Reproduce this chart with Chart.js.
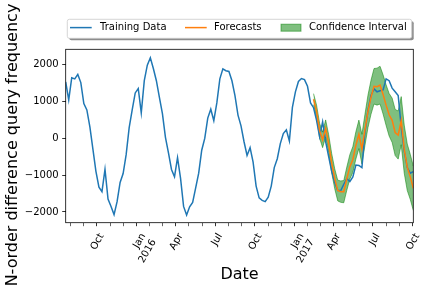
<!DOCTYPE html>
<html>
<head>
<meta charset="utf-8">
<script src="https://cdn.jsdelivr.net/npm/chart.js@4.4.0/dist/chart.umd.min.js"></script>
<style>
  html, body { margin: 0; padding: 0; background: #fff; }
</style>
</head>
<body>
<canvas id="chart" width="432" height="288"></canvas>
<script>

// weekly series, first week and values
const firstWeek = '2015-07-21';

const training = [
  1520, 1030, 1630, 1600, 1720, 1500, 930, 760, 300, -300,
  -900, -1330, -1450, -850, -1650, -1850, -2070, -1720, -1200, -960,
  -450, 280, 760, 1220, 1340, 680, 1550, 1970, 2170, 1880,
  1550, 1100, 660, 20, -400, -850, -1045, -530, -1090, -1850,
  -2080, -1860, -1740, -1350, -950, -330, -10, 540, 780, 470,
  950, 1600, 1870, 1820, 1800, 1550, 1150, 620, 330, -100,
  -470, -260, -650, -1300, -1620, -1685, -1720, -1600, -1300, -800,
  -560, -150, 120, 220, -80, 830, 1250, 1530, 1610, 1580,
  1400, 950, 820, 480, 40, 440, -100, -500, -900, -1200,
  -1420, -1420, -1250, -1100, -1180, -1050, -730, -740, -800, 150,
  750, 1150, 1330, 1250, 1280, 1300, 1600, 1550, 1350, 1250,
  1150, 300, -350, -800, -950, -910
];

// forecasts start at week index 82
const forecastStart = 82;
const forecasts = [
  1050, 720, 200, -50, 260, -150, -680, -1100, -1420, -1450,
  -1450, -1100, -780, -580, -200, 100, -300, 220, 720, 1100,
  1400, 1390, 1430, 1180, 890, 630, 480, 150, 80, 470,
  -300, -790, -1050, -1360
];
const ciUpper = [
  1200, 890, 400, 160, 490, 90, -420, -830, -1140, -1160,
  -1150, -785, -450, -230, 170, 485, 100, 640, 1160, 1560,
  1880, 1890, 1940, 1710, 1440, 1205, 1080, 775, 730, 1120,
  350, -160, -440, -760
];
const ciLower = [
  900, 550, 0, -260, 30, -390, -940, -1370, -1700, -1740,
  -1750, -1415, -1110, -930, -570, -285, -700, -200, 280, 640,
  920, 890, 920, 650, 340, 55, -120, -475, -570, -180,
  -950, -1420, -1660, -1960
];

const seriesNames = ['Training Data', 'Forecasts', 'Confidence Interval'];
const yTicks = [-2000, -1000, 0, 1000, 2000];
const xTickDates = ['2015-10-01', '2016-01-01', '2016-04-01', '2016-07-01', '2016-10-01',
                    '2017-01-01', '2017-04-01', '2017-07-01', '2017-10-01'];
const xTickLabels = ['Oct', ['Jan', '2016'], 'Apr', 'Jul', 'Oct', ['Jan', '2017'], 'Apr', 'Jul', 'Oct'];
const xTitle = 'Date';
const yTitle = 'N-order difference query frequency';

const DAY = 86400000;
const toDay = s => Date.parse(s) / DAY;
const weeks = training.map((v, i) => toDay(firstWeek) + 7 * i);
const xmin = weeks[0], xmax = weeks[weeks.length - 1];

const labelMap = new Map(xTickDates.map((d, i) => [toDay(d), xTickLabels[i]]));
// monthly minor ticks
const monthTicks = [];
for (let y = 2015; y <= 2017; y++) {
  for (let m = 0; m < 12; m++) {
    const d = Date.UTC(y, m, 1) / DAY;
    if (d >= xmin && d <= xmax) monthTicks.push(d);
  }
}

const pts = (arr, off) => arr.map((v, i) => ({ x: weeks[i + off], y: v }));

const green = 'rgba(0,128,0,0.5)';

Chart.defaults.font.family = '"DejaVu Sans", sans-serif';
Chart.defaults.font.size = 10;
Chart.defaults.color = '#000';

const extras = {
  id: 'extras',
  beforeDraw(chart) {
    // two-line tick labels sit a little further right in the original
    try {
      chart.scales.x.getLabelItems().forEach(it => {
        if (Array.isArray(it.label) && it.label.length > 1 && !it.moved) {
          it.options.translation[0] += 2;
          it.moved = true;
        }
      });
    } catch (e) {}
  },
  afterDraw(chart) {
    const { ctx, chartArea: a } = chart;
    ctx.save();
    ctx.strokeStyle = '#000';
    ctx.lineWidth = 0.8;
    ctx.strokeRect(a.left, a.top, a.right - a.left, a.bottom - a.top);

    // y title
    ctx.save();
    ctx.fillStyle = '#000';
    ctx.font = '16px "DejaVu Sans"';
    ctx.translate(16.5, 145);
    ctx.rotate(-Math.PI / 2);
    ctx.textAlign = 'center';
    ctx.textBaseline = 'alphabetic';
    ctx.fillText(yTitle, 0, 0);
    ctx.restore();

    // legend box with shadow
    const lx = 67.3, ly = 19.3, lw = 344.4, lh = 19, cy = 27.6;
    ctx.fillStyle = 'rgba(0,0,0,0.45)';
    ctx.beginPath();
    ctx.roundRect(lx + 2, ly + 2, lw, lh, 2);
    ctx.fill();
    ctx.fillStyle = '#fff';
    ctx.strokeStyle = '#cccccc';
    ctx.lineWidth = 0.8;
    ctx.beginPath();
    ctx.roundRect(lx, ly, lw, lh, 2);
    ctx.fill();
    ctx.stroke();

    ctx.lineWidth = 1.5;
    ctx.strokeStyle = '#1f77b4';
    ctx.beginPath(); ctx.moveTo(70, cy); ctx.lineTo(91.7, cy); ctx.stroke();
    ctx.strokeStyle = '#ff7f0e';
    ctx.beginPath(); ctx.moveTo(185, cy); ctx.lineTo(206.7, cy); ctx.stroke();
    ctx.fillStyle = green;
    ctx.strokeStyle = green;
    ctx.lineWidth = 1;
    ctx.fillRect(281, 24.2, 20, 7);
    ctx.strokeRect(281, 24.2, 20, 7);

    ctx.fillStyle = '#000';
    ctx.font = '10px "DejaVu Sans"';
    ctx.textBaseline = 'middle';
    ctx.textAlign = 'left';
    ctx.fillText(seriesNames[0], 100, cy);
    ctx.fillText(seriesNames[1], 214, cy);
    ctx.fillText(seriesNames[2], 309, cy);
    ctx.restore();
  }
};

new Chart(document.getElementById('chart'), {
  type: 'line',
  data: {
    datasets: [
      {
        label: seriesNames[1],
        data: pts(forecasts, forecastStart),
        borderColor: '#ff7f0e',
        borderWidth: 1.5,
        pointRadius: 0,
        fill: false
      },
      {
        label: seriesNames[0],
        data: pts(training, 0),
        borderColor: '#1f77b4',
        borderWidth: 1.5,
        pointRadius: 0,
        fill: false
      },
      {
        label: seriesNames[2],
        data: pts(ciUpper, forecastStart),
        borderColor: green,
        backgroundColor: green,
        borderWidth: 1,
        pointRadius: 0,
        fill: '+1'
      },
      {
        label: seriesNames[2] + ' (lower)',
        data: pts(ciLower, forecastStart),
        borderColor: green,
        borderWidth: 1,
        pointRadius: 0,
        fill: false
      }
    ]
  },
  options: {
    responsive: false,
    animation: false,
    events: [],
    devicePixelRatio: 1,
    layout: { padding: { top: 49.3, right: 18.7, left: 0, bottom: 0 } },
    plugins: {
      legend: { display: false },
      tooltip: { enabled: false }
    },
    scales: {
      x: {
        type: 'linear',
        min: xmin,
        max: xmax,
        afterBuildTicks: s => {
          s.ticks = monthTicks.map(v => ({ value: v, major: labelMap.has(v) }));
        },
        afterFit: s => { s.height = 65.3; },
        grid: {
          drawOnChartArea: false,
          tickLength: 3.5,
          tickColor: '#000',
          tickWidth: c => (c.tick && c.tick.major ? 0.8 : 0.6)
        },
        border: { display: false },
        ticks: {
          autoSkip: false,
          minRotation: 60,
          maxRotation: 60,
          padding: 5,
          labelOffset: 5,
          callback: v => labelMap.get(v) ?? ''
        },
        title: {
          display: true,
          text: xTitle,
          font: { size: 16 },
          padding: { top: 0, bottom: 4 }
        }
      },
      y: {
        min: -2290,
        max: 2400,
        afterBuildTicks: s => {
          s.ticks = yTicks.map(v => ({ value: v }));
        },
        afterFit: s => { s.width = 65.7; },
        grid: {
          drawOnChartArea: false,
          tickLength: 3.5,
          tickColor: '#000',
          tickWidth: 0.8
        },
        border: { display: false },
        ticks: {
          padding: 3.5,
          callback: v => (v < 0 ? '\u2212' + (-v) : String(v))
        }
      }
    }
  },
  plugins: [extras]
});
</script>
</body>
</html>
